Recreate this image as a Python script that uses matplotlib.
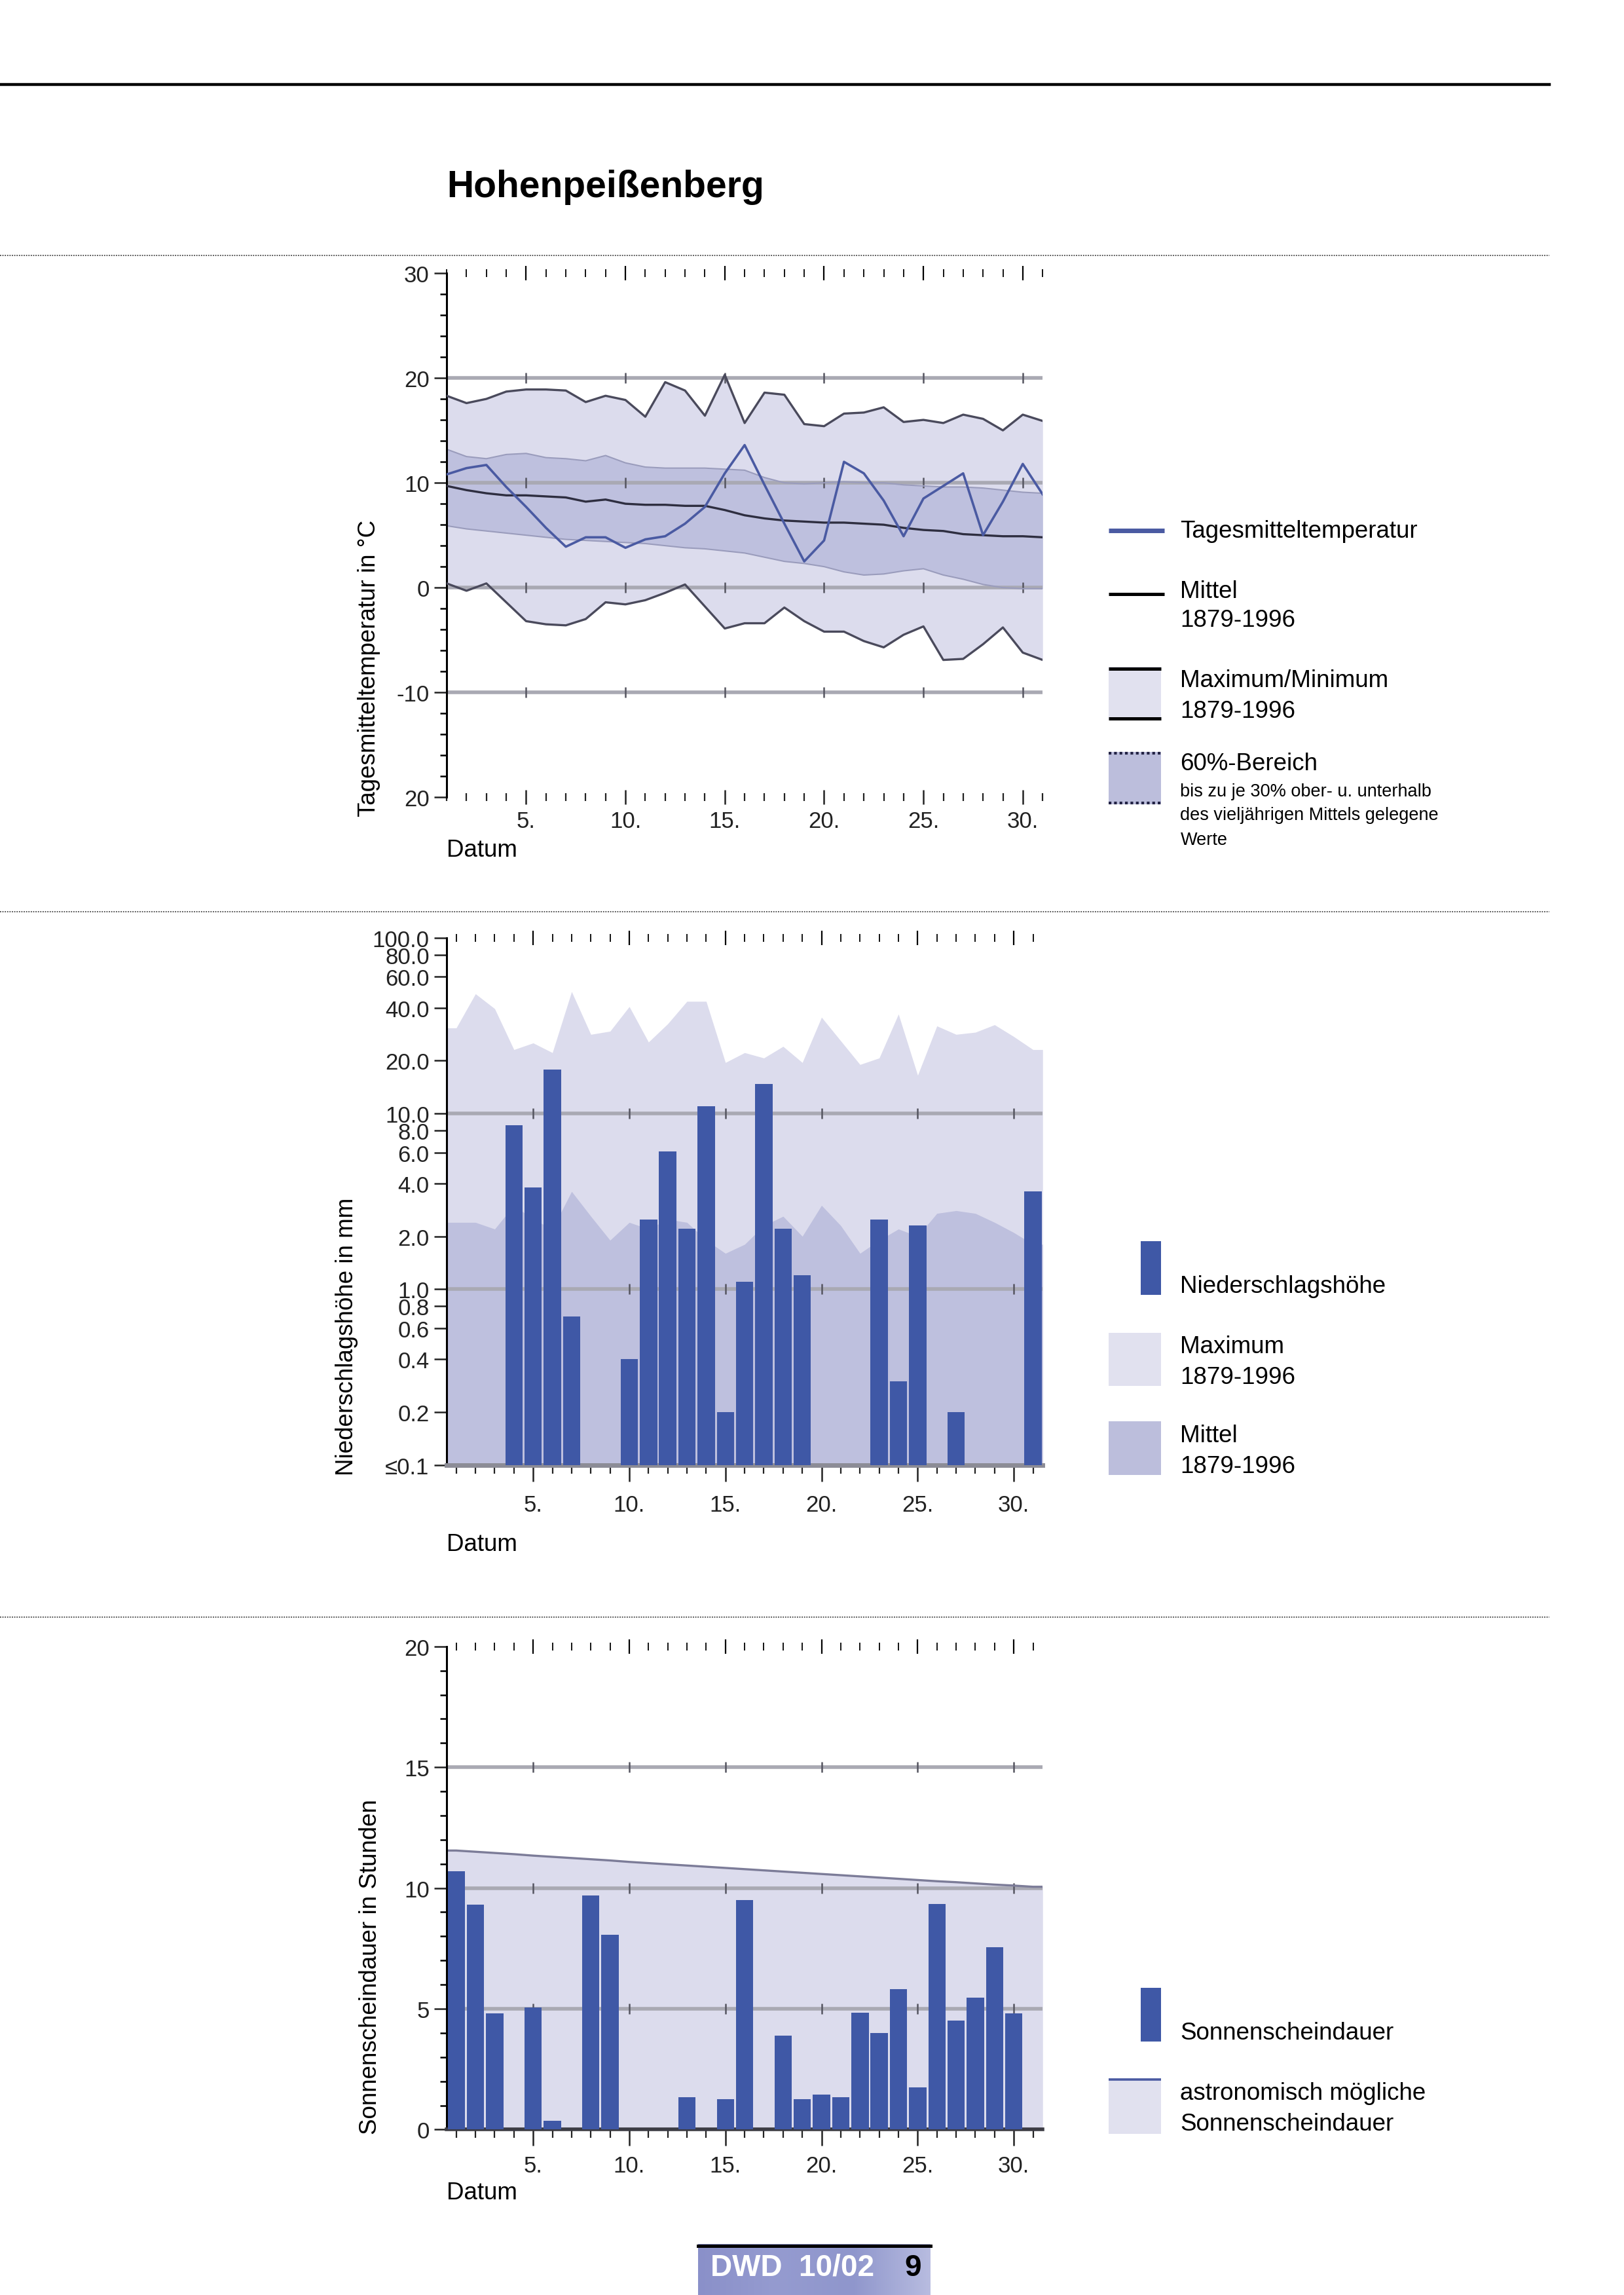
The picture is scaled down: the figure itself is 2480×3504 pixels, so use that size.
# %% Monatsblatt Hohenpeissenberg - Temperatur, Niederschlag, Sonnenschein
import numpy as np
import matplotlib
matplotlib.use('Agg')
import matplotlib.pyplot as plt
from matplotlib.lines import Line2D
from matplotlib.patches import Rectangle
from matplotlib.ticker import MultipleLocator, NullLocator
from matplotlib.colors import LinearSegmentedColormap

plt.rcParams['font.family'] = ['Liberation Sans', 'DejaVu Sans']
NARROW = ['Liberation Sans Narrow', 'Liberation Sans', 'DejaVu Sans']

# %% Daten
days = np.arange(1, 32)
days5 = [5, 10, 15, 20, 25, 30]
day_labels = ['5.', '10.', '15.', '20.', '25.', '30.']

# Temperatur
t_tag = [10.8, 11.4, 11.7, 9.6, 7.7, 5.7, 3.9, 4.8, 4.8, 3.8, 4.6, 4.9, 6.1, 7.7, 10.9, 13.6,
         9.8, 6.1, 2.5, 4.5, 12.0, 10.9, 8.3, 4.9, 8.5, 9.7, 10.9, 5.0, 8.2, 11.8, 8.9]
t_mittel = [9.7, 9.3, 9.0, 8.8, 8.8, 8.7, 8.6, 8.2, 8.4, 8.0, 7.9, 7.9, 7.8, 7.8, 7.4, 6.9,
            6.6, 6.4, 6.3, 6.2, 6.2, 6.1, 6.0, 5.7, 5.5, 5.4, 5.1, 5.0, 4.9, 4.9, 4.8]
t_max = [18.3, 17.6, 18.0, 18.7, 18.9, 18.9, 18.8, 17.7, 18.3, 17.9, 16.3, 19.6, 18.8, 16.4, 20.3, 15.7,
         18.6, 18.4, 15.6, 15.4, 16.6, 16.7, 17.2, 15.8, 16.0, 15.7, 16.5, 16.1, 15.0, 16.5, 15.9]
t_min = [0.4, -0.3, 0.4, -1.4, -3.2, -3.5, -3.6, -3.0, -1.4, -1.6, -1.2, -0.5, 0.3, -1.8, -3.9, -3.4,
         -3.4, -1.9, -3.2, -4.2, -4.2, -5.1, -5.7, -4.5, -3.7, -6.9, -6.8, -5.4, -3.8, -6.2, -6.9]
t_hi60 = [13.2, 12.5, 12.3, 12.7, 12.8, 12.4, 12.3, 12.1, 12.6, 11.9, 11.5, 11.4, 11.4, 11.4, 11.3, 11.2,
          10.5, 10.0, 9.9, 10.0, 10.1, 10.0, 10.0, 9.8, 9.7, 9.6, 9.6, 9.5, 9.3, 9.1, 9.0]
t_lo60 = [5.9, 5.6, 5.4, 5.2, 5.0, 4.8, 4.6, 4.5, 4.4, 4.3, 4.2, 4.0, 3.8, 3.7, 3.5, 3.3,
          2.9, 2.5, 2.3, 2.0, 1.5, 1.2, 1.3, 1.6, 1.8, 1.2, 0.8, 0.3, 0.0, -0.1, -0.1]
t_ticks = [30, 20, 10, 0, -10, -20]
t_ticklabels = ['30', '20', '10', '0', '-10', '20']
t_grid = [20, 10, 0, -10]

# Niederschlag
p_tag = [0, 0, 0, 8.6, 3.8, 17.8, 0.7, 0, 0, 0.4, 2.5, 6.1, 2.2, 11.0, 0.2, 1.1,
         14.7, 2.2, 1.2, 0, 0, 0, 2.5, 0.3, 2.3, 0, 0.2, 0, 0, 0, 3.6]
p_max = [30.7, 48.0, 39.5, 23.1, 25.2, 22.2, 49.4, 28.2, 29.4, 40.6, 25.5, 32.4, 43.5, 43.5, 19.5, 22.2,
         20.7, 24.1, 19.5, 35.3, 25.9, 19.0, 20.7, 36.8, 16.5, 31.5, 28.2, 29.0, 32.0, 27.4, 23.1]
p_mittel = [2.4, 2.4, 2.2, 3.0, 2.5, 2.2, 3.6, 2.6, 1.9, 2.4, 2.2, 2.5, 2.4, 1.9, 1.6, 1.8,
            2.3, 2.6, 2.0, 3.0, 2.3, 1.6, 1.9, 2.2, 2.0, 2.7, 2.8, 2.7, 2.4, 2.1, 1.8]
p_ticks = [100, 80, 60, 40, 20, 10, 8, 6, 4, 2, 1, 0.8, 0.6, 0.4, 0.2, 0.1]
p_ticklabels = ['100.0', '80.0', '60.0', '40.0', '20.0', '10.0', '8.0', '6.0', '4.0', '2.0',
                '1.0', '0.8', '0.6', '0.4', '0.2', '≤0.1']
p_grid = [10, 1]

# Sonnenschein
s_tag = [10.7, 9.3, 4.8, 0, 5.05, 0.35, 0, 9.7, 8.05, 0, 0, 0, 1.35, 0, 1.25, 9.5,
         0, 3.9, 1.25, 1.45, 1.35, 4.85, 4.0, 5.8, 1.75, 9.35, 4.5, 5.45, 7.55, 4.8, 0]
s_astro = [11.55, 11.50, 11.45, 11.40, 11.34, 11.29, 11.24, 11.19, 11.14, 11.08, 11.03, 10.98,
           10.93, 10.88, 10.83, 10.78, 10.73, 10.68, 10.63, 10.58, 10.53, 10.48, 10.43, 10.38,
           10.33, 10.28, 10.24, 10.19, 10.14, 10.10, 10.05]
s_ticks = [0, 5, 10, 15, 20]
s_grid = [15, 10, 5]

# %% Farben
c_light = '#dcdced'
c_mid = '#bec0de'
c_bar = '#3f58a6'
c_blue = '#4a5aa2'
c_grid = '#a9a9b3'

# %% Layout (Koordinaten der Seitenansicht)
W0, H0 = 1109.0, 1568.0


def fx(x):
    return x / W0


def fy(y):
    return 1 - y / H0


def rect(x0, y0, x1, y1):
    return [fx(x0), fy(y1), (x1 - x0) / W0, (y1 - y0) / H0]


fig = plt.figure(figsize=(24.8, 35.05), dpi=100)


def hline(y, x0=0, x1=1058, **kw):
    fig.add_artist(Line2D([fx(x0), fx(x1)], [fy(y), fy(y)], transform=fig.transFigure, **kw))


def text(x, y, s, **kw):
    kw.setdefault('fontsize', 26.5)
    kw.setdefault('va', 'center')
    fig.text(fx(x), fy(y), s, **kw)


def base_axes(ax, xlim, bottom_dir, bot_len, pad):
    ax.set_xlim(*xlim)
    ax.spines['top'].set_visible(False)
    ax.spines['right'].set_visible(False)
    ax.spines['left'].set_linewidth(2.2)
    ax.set_xticks(days5, labels=day_labels)
    ax.set_xticks(days, minor=True)
    ax.tick_params(axis='x', which='major', direction=bottom_dir, length=bot_len, width=1.8,
                   pad=pad, labelsize=25, labelfontfamily=NARROW, colors='#222222')
    ax.tick_params(axis='x', which='minor', direction=bottom_dir, length=bot_len / 2, width=1.6,
                   colors='#222222')
    ax.tick_params(axis='y', which='major', direction='out', length=14, width=1.8, pad=5,
                   labelsize=25, labelfontfamily=NARROW, colors='#222222')
    ax.tick_params(axis='y', which='minor', direction='out', length=7, width=1.8)
    top = ax.secondary_xaxis('top')
    top.set_xticks(days5)
    top.set_xticks(days, minor=True)
    top.tick_params(which='major', direction='inout', length=16, width=1.6, labeltop=False)
    top.tick_params(which='minor', direction='inout', length=8, width=1.3)
    top.spines['top'].set_visible(False)


def grid_marks(ax, values):
    for g in values:
        ax.axhline(g, color=c_grid, lw=4, zorder=2)
        ax.plot(days5, [g] * len(days5), ls='none', marker='|', ms=11, mew=1.8,
                color='#555560', zorder=2.1)


# %% Kopf
hline(58, lw=3.2, color='black')
text(305, 128, 'Hohenpeißenberg', fontsize=41, fontweight='bold')
for ysep in [175, 623, 1105]:
    hline(ysep, lw=1.3, color='#444444', ls=(0, (1, 1)))

# %% Temperatur
ax1 = fig.add_axes(rect(305, 187, 712, 545))
base_axes(ax1, (1, 31), 'inout', 16, 6)
ax1.spines['bottom'].set_visible(False)
ax1.set_ylim(-20, 30)
ax1.set_yticks(t_ticks, labels=t_ticklabels)
ax1.yaxis.set_minor_locator(MultipleLocator(2))
ax1.fill_between(days, t_min, t_max, color=c_light, lw=0, zorder=1)
ax1.fill_between(days, t_lo60, t_hi60, color=c_mid, lw=0, zorder=1.5)
grid_marks(ax1, t_grid)
ax1.plot(days, t_hi60, color='#9a9cbc', lw=1.5, zorder=2.5)
ax1.plot(days, t_lo60, color='#9a9cbc', lw=1.5, zorder=2.5)
ax1.plot(days, t_max, color='#4a4a5c', lw=2.4, zorder=3)
ax1.plot(days, t_min, color='#4a4a5c', lw=2.4, zorder=3)
ax1.plot(days, t_mittel, color='#2e2e40', lw=2.4, zorder=3)
ax1.plot(days, t_tag, color=c_blue, lw=2.6, zorder=3.5)
text(252, 558, 'Tagesmitteltemperatur in °C', rotation=90, ha='center', va='bottom')
text(305, 581, 'Datum')

# Legende Temperatur
hline(363, 757, 795, lw=5, color=c_blue, solid_capstyle='butt')
text(806, 363, 'Tagesmitteltemperatur')
hline(406, 757, 795, lw=3.6, color='black', solid_capstyle='butt')
text(806, 404, 'Mittel')
text(806, 424, '1879-1996')
fig.add_artist(Rectangle((fx(757), fy(492)), 36 / W0, 36 / H0, transform=fig.transFigure,
                         facecolor='#e1e1ef', lw=0))
hline(457, 757, 793, lw=3.6, color='black', solid_capstyle='butt')
hline(491, 757, 793, lw=3.6, color='black', solid_capstyle='butt')
text(806, 465, 'Maximum/Minimum')
text(806, 486, '1879-1996')
fig.add_artist(Rectangle((fx(757), fy(550)), 36 / W0, 36 / H0, transform=fig.transFigure,
                         facecolor='#bcbedc', lw=0))
hline(515, 757, 793, lw=3, color='#222244', ls=(0, (1, 1)))
hline(549, 757, 793, lw=3, color='#222244', ls=(0, (1, 1)))
text(806, 522, '60%-Bereich')
text(806, 541, 'bis zu je 30% ober- u. unterhalb', fontsize=19.5)
text(806, 557, 'des vieljährigen Mittels gelegene', fontsize=19.5)
text(806, 574, 'Werte', fontsize=19.5)

# %% Niederschlag
xpad = np.r_[0.5, days, 31.5]
ax2 = fig.add_axes(rect(305, 641, 712, 1001))
base_axes(ax2, (0.5, 31.5), 'out', 18, 14)
ax2.set_yscale('log')
ax2.set_ylim(0.1, 100)
ax2.set_yticks(p_ticks, labels=p_ticklabels)
ax2.yaxis.set_minor_locator(NullLocator())
ax2.spines['bottom'].set_color('#8c8c96')
ax2.spines['bottom'].set_linewidth(5)
ax2.fill_between(xpad, 0.1, np.r_[p_max[0], p_max, p_max[-1]], color=c_light, lw=0, zorder=1)
ax2.fill_between(xpad, 0.1, np.r_[p_mittel[0], p_mittel, p_mittel[-1]], color=c_mid, lw=0, zorder=1.5)
grid_marks(ax2, p_grid)
p_arr = np.array(p_tag, dtype=float)
wet = p_arr > 0
ax2.bar(days[wet], p_arr[wet] - 0.1, bottom=0.1, width=0.9, color=c_bar, lw=0, zorder=3)
text(237, 1008, 'Niederschlagshöhe in mm', rotation=90, ha='center', va='bottom')
text(305, 1055, 'Datum')

# Legende Niederschlag
fig.add_artist(Rectangle((fx(779), fy(885)), 14 / W0, 37 / H0, transform=fig.transFigure,
                         facecolor=c_bar, lw=0))
text(806, 879, 'Niederschlagshöhe')
fig.add_artist(Rectangle((fx(757), fy(947)), 36 / W0, 36 / H0, transform=fig.transFigure,
                         facecolor='#e1e1ef', lw=0))
text(806, 920, 'Maximum')
text(806, 941, '1879-1996')
fig.add_artist(Rectangle((fx(757), fy(1008)), 36 / W0, 37 / H0, transform=fig.transFigure,
                         facecolor='#bcbedc', lw=0))
text(806, 981, 'Mittel')
text(806, 1002, '1879-1996')

# %% Sonnenschein
ax3 = fig.add_axes(rect(305, 1125, 712, 1455))
base_axes(ax3, (0.5, 31.5), 'out', 18, 10)
ax3.set_ylim(0, 20)
ax3.set_yticks(s_ticks)
ax3.yaxis.set_minor_locator(MultipleLocator(1))
ax3.spines['bottom'].set_color('#3c3c44')
ax3.spines['bottom'].set_linewidth(4)
astro = np.r_[s_astro[0], s_astro, s_astro[-1]]
ax3.fill_between(xpad, 0, astro, color=c_light, lw=0, zorder=1)
ax3.plot(xpad, astro, color='#7c7c98', lw=2.4, zorder=2.5)
grid_marks(ax3, s_grid)
ax3.bar(days, s_tag, width=0.9, color=c_bar, lw=0, zorder=3)
text(253, 1458, 'Sonnenscheindauer in Stunden', rotation=90, ha='center', va='bottom')
text(305, 1498, 'Datum')

# Legende Sonnenschein
fig.add_artist(Rectangle((fx(779), fy(1395)), 14 / W0, 37 / H0, transform=fig.transFigure,
                         facecolor=c_bar, lw=0))
text(806, 1389, 'Sonnenscheindauer')
fig.add_artist(Rectangle((fx(757), fy(1458)), 36 / W0, 38 / H0, transform=fig.transFigure,
                         facecolor='#e1e1ef', lw=0))
hline(1421, 757, 793, lw=2.6, color=c_blue, solid_capstyle='butt')
text(806, 1430, 'astronomisch mögliche')
text(806, 1451, 'Sonnenscheindauer')

# %% Fusszeile
axf = fig.add_axes([1066 / 2480, 0, 355 / 2480, 78 / 3505])
cmap = LinearSegmentedColormap.from_list('dwd', ['#8a90c9', '#959bd0', '#8f96cc', '#b8bce0'])
axf.imshow(np.linspace(0, 1, 256)[None, :], aspect='auto', cmap=cmap, extent=(0, 1, 0, 1))
axf.set_axis_off()
fig.add_artist(Line2D([1066 / 2480, 1421 / 2480], [1 - 3429.5 / 3505] * 2,
                      transform=fig.transFigure, lw=3.6, color='black'))
fig.text(1085 / 2480, 1 - 3463 / 3505, 'DWD  10/02', color='white', fontsize=33,
         fontweight='bold', family=NARROW, va='center')
fig.text(1381 / 2480, 1 - 3463 / 3505, '9', color='black', fontsize=33,
         fontweight='bold', family=NARROW, va='center')

fig.savefig('out.png', dpi=100, facecolor='white')
